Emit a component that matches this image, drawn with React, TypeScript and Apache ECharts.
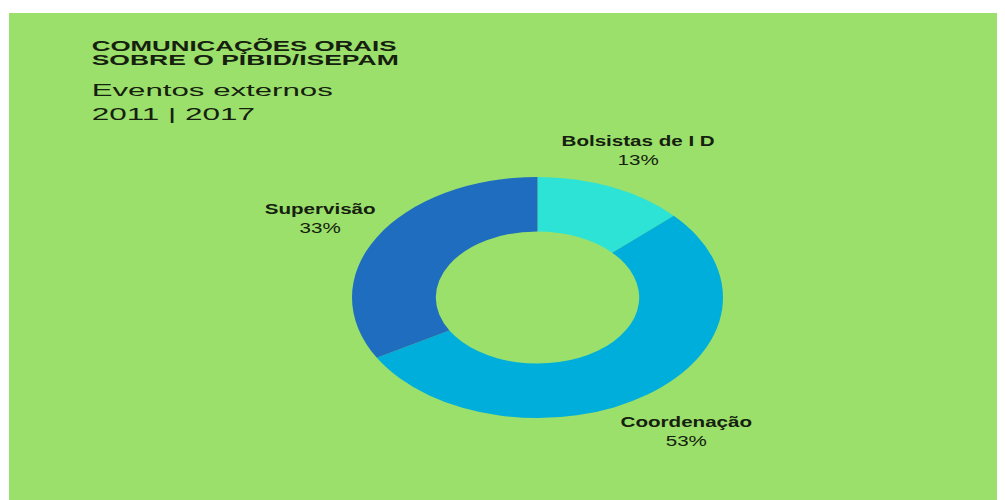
import React, { useEffect, useRef } from "react";
import * as echarts from "echarts";

const categories = ["Bolsistas de I D", "Coordenação", "Supervisão"];
const values = [13, 53, 33];
const percentLabels = ["13%", "53%", "33%"];
const sliceColors = ["#2DE3D6", "#00AEDC", "#1F6DBF"];
const titleLines = ["COMUNICAÇÕES ORAIS", "SOBRE O PIBID/ISEPAM"];
const subtitleLines = ["Eventos externos", "2011 | 2017"];

const FONT = '"Liberation Sans", Arial, Helvetica, sans-serif';
const BG = "#9BE06A";
const TEXT = "#15200f";

function measure(text: string, font: string): number {
  const c = document.createElement("canvas");
  const ctx = c.getContext("2d");
  if (!ctx) return text.length * 8;
  ctx.font = font;
  return ctx.measureText(text).width;
}

export default function App() {
  const ref = useRef<HTMLDivElement>(null);
  useEffect(() => {
    if (!ref.current) return;
    const chart = echarts.init(ref.current, undefined, { renderer: "svg" });

    const total = values.reduce((a, b) => a + b, 0);
    const cx = 529.5;
    const cy = 289.5;
    const rOuter = 185.5;
    const rInner = 101.7;
    const squash = 120.5 / 185.5;
    const labelRx = 251;
    const labelRy = 163;
    const labelOffY = 2.5;
    const labelScale = 1.47;

    const titleFont = `bold 15px ${FONT}`;
    const subFont = `17px ${FONT}`;
    const titleTargets = [305, 307.3];
    const subTargets = [241.3, 163.3];
    const titleY = [37.5, 51.7];
    const subY = [82, 106.2];

    const graphics: any[] = [
      { type: "rect", z: 0, shape: { x: 0, y: 0, width: 997, height: 5 }, style: { fill: "#ffffff" } },
      { type: "rect", z: 0, shape: { x: 0, y: 0, width: 1, height: 492 }, style: { fill: "#ffffff" } },
    ];
    titleLines.forEach((t, i) => {
      const w = measure(t, titleFont);
      graphics.push({
        type: "text",
        x: 83.7,
        y: titleY[i],
        scaleX: titleTargets[i] / w,
        style: { text: t, font: titleFont, fill: TEXT, textAlign: "left", textVerticalAlign: "middle" },
      });
    });
    subtitleLines.forEach((t, i) => {
      const w = measure(t, subFont);
      graphics.push({
        type: "text",
        x: 83.7,
        y: subY[i],
        scaleX: subTargets[i] / w,
        style: { text: t, font: subFont, fill: TEXT, textAlign: "left", textVerticalAlign: "middle" },
      });
    });

    const starts: number[] = [];
    let acc = 0;
    values.forEach((v) => {
      starts.push(acc);
      acc += v;
    });

    chart.setOption({
      animation: false,
      backgroundColor: BG,
      graphic: { elements: graphics },
      series: [
        {
          type: "custom",
          coordinateSystem: "none",
          data: values.map((v, i) => ({ value: v, name: categories[i] })),
          renderItem: (params: any, api: any) => {
            const i = params.dataIndex;
            const v = api.value(0);
            const a0 = (starts[i] / total) * Math.PI * 2;
            const a1 = ((starts[i] + v) / total) * Math.PI * 2;
            const mid = (a0 + a1) / 2;
            const lx = cx + labelRx * Math.sin(mid);
            const ly = cy + labelOffY - labelRy * Math.cos(mid);
            return {
              type: "group",
              children: [
                {
                  type: "sector",
                  x: cx,
                  y: cy,
                  scaleY: squash,
                  shape: {
                    cx: 0,
                    cy: 0,
                    r: rOuter,
                    r0: rInner,
                    startAngle: a0 - Math.PI / 2,
                    endAngle: a1 - Math.PI / 2,
                    clockwise: true,
                  },
                  style: { fill: sliceColors[i], stroke: "none" },
                },
                {
                  type: "text",
                  x: lx,
                  y: ly,
                  scaleX: labelScale,
                  style: {
                    text: `{n|${categories[i]}}\n{p|${percentLabels[i]}}`,
                    textAlign: "center",
                    textVerticalAlign: "middle",
                    rich: {
                      n: { fontFamily: FONT, fontWeight: "bold", fontSize: 14, lineHeight: 19, fill: TEXT, color: TEXT },
                      p: { fontFamily: FONT, fontSize: 14, lineHeight: 19, fill: TEXT, color: TEXT },
                    },
                  },
                },
              ],
            };
          },
        },
      ],
    });

    return () => chart.dispose();
  }, []);

  return <div ref={ref} style={{ width: 997, height: 492 }} />;
}
